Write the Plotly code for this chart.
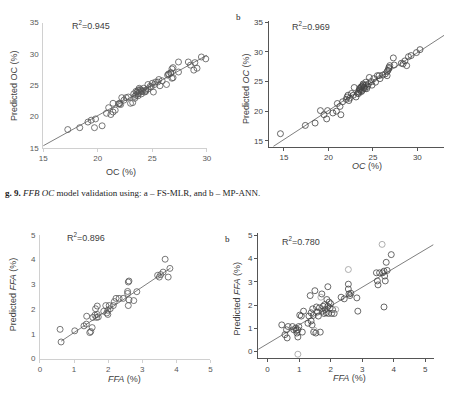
import plotly.graph_objects as go

# ---------------- data ----------------
# Panel a (top-left): OC, FS-MLR
a_x = [17.25, 18.35, 19.1, 19.4, 19.8, 19.7, 20.4, 20.8, 21.0, 21.2, 21.4, 21.4, 21.6, 22.0, 22.1,
       22.2, 22.4, 22.6, 22.8, 23.0, 23.2, 23.4, 23.5, 23.7, 23.7, 23.8, 23.8, 24.0, 24.0, 24.1,
       24.3, 24.4, 24.6, 24.6, 24.9, 25.1, 25.2, 25.5, 25.6, 25.7, 25.9, 26.3, 26.4, 26.5, 26.7,
       26.8, 26.9, 26.8, 26.9, 27.4, 27.4, 28.3, 28.5, 28.9, 28.8, 29.1, 29.5, 29.9,
       23.4, 23.6, 23.9, 24.2, 23.5, 23.7, 24.0, 24.4, 23.3, 22.0, 21.9, 26.5, 26.7, 25.3, 24.8, 25.0]
a_y = [17.9, 18.2, 19.1, 19.4, 19.6, 18.2, 18.5, 20.5, 21.4, 20.3, 20.7, 22.1, 21.0, 22.1, 21.9,
       23.0, 22.6, 23.0, 23.1, 22.1, 22.2, 22.9, 23.4, 23.6, 24.2, 23.9, 24.5, 24.2, 23.6, 24.0,
       23.9, 24.2, 24.4, 25.1, 24.7, 23.9, 25.1, 25.5, 25.9, 24.9, 25.7, 25.1, 26.6, 26.8, 26.9,
       27.6, 27.8, 26.1, 26.2, 27.1, 28.7, 28.7, 28.2, 28.6, 27.4, 27.7, 29.5, 29.2,
       23.2, 23.9, 24.3, 24.5, 24.0, 23.3, 24.0, 24.0, 23.6, 22.0, 22.0, 26.7, 27.0, 25.5, 24.8, 25.3]
a_fit = (0.965, 0.83)      # slope, intercept
a_fit_x = [15.0, 30.3]

# Panel b (top-right): OC, MP-ANN
b_x = [14.6, 17.4, 18.5, 19.1, 19.5, 19.9, 19.8, 20.5, 20.9, 21.0, 21.4, 21.3, 21.6, 22.1, 22.2,
       22.4, 22.6, 22.8, 22.9, 23.1, 23.4, 23.5, 23.7, 23.8, 23.9, 24.0, 24.2, 24.2, 24.3, 24.5,
       24.6, 24.8, 24.9, 25.1, 25.3, 25.5, 25.7, 25.8, 26.1, 26.4, 26.6, 26.8, 26.9, 26.6, 27.3,
       27.4, 28.2, 28.4, 28.8, 28.6, 29.0, 29.3, 29.9, 30.3,
       23.5, 23.6, 23.8, 23.4, 23.7, 24.0, 24.1, 23.9, 24.4, 23.6, 22.0, 22.3, 26.7, 26.8, 23.3]
b_y = [16.2, 17.6, 18.0, 20.1, 19.4, 20.1, 18.7, 19.7, 20.0, 21.3, 19.4, 20.8, 21.6, 22.4, 22.7,
       22.2, 23.0, 22.7, 24.0, 22.4, 23.3, 23.8, 24.1, 23.5, 24.4, 23.9, 24.4, 24.9, 23.8, 24.6,
       25.7, 25.0, 24.4, 25.5, 24.9, 26.0, 26.0, 25.5, 26.1, 26.3, 26.7, 27.4, 27.7, 26.0, 29.0,
       27.8, 28.1, 28.0, 27.7, 28.5, 29.2, 29.4, 29.9, 30.4,
       23.6, 24.0, 24.2, 23.0, 23.3, 24.1, 23.8, 24.6, 24.2, 23.5, 22.0, 21.8, 26.9, 27.2, 23.0]
b_fit = (0.977, 0.57)
b_fit_x = [13.8, 33.0]

# Panel c (bottom-left): FFA, FS-MLR
c_x = [0.59, 0.62, 1.02, 1.29, 1.36, 1.37, 1.46, 1.49, 1.53, 1.55, 1.61, 1.63, 1.66, 1.68, 1.68,
       1.71, 1.87, 1.93, 1.96, 1.99, 1.99, 2.03, 2.06, 2.15, 2.18, 2.23, 2.32, 2.44, 2.57, 2.57,
       2.59, 2.61, 2.59, 2.61, 2.75, 2.84, 3.45, 3.50, 3.54, 3.61, 3.67, 3.76, 3.81]
c_y = [1.18, 0.67, 1.12, 1.32, 1.39, 1.71, 1.05, 1.09, 1.25, 1.66, 1.75, 2.01, 1.66, 1.78, 2.12,
       1.68, 1.91, 2.14, 1.84, 1.95, 1.78, 2.14, 2.01, 2.14, 2.30, 2.43, 2.43, 2.43, 2.63, 2.71,
       3.09, 3.13, 2.14, 2.37, 2.34, 2.70, 3.36, 3.29, 3.39, 3.49, 4.01, 3.29, 3.64]
c_fit = (0.92, 0.13)
c_fit_x = [0.62, 3.83]

# Panel d (bottom-right): FFA, MP-ANN
d_x = [0.45, 0.55, 0.62, 0.60, 0.65, 0.79, 0.83, 0.89, 0.91, 0.93, 0.96, 0.96, 0.99, 1.02, 1.07,
       1.10, 1.14, 1.28, 1.31, 1.35, 1.38, 1.38, 1.41, 1.43, 1.45, 1.46, 1.50, 1.53, 1.55, 1.58,
       1.61, 1.64, 1.67, 1.72, 1.74, 1.76, 1.79, 1.81, 1.83, 1.86, 1.88, 1.91, 1.91, 1.93, 1.95,
       1.98, 2.00, 2.03, 2.06, 2.11, 2.33, 2.43, 2.56, 2.56, 2.58, 2.61, 2.64, 2.83, 2.86, 3.45,
       3.48, 3.50, 3.55, 3.65, 3.69, 3.71, 3.73, 3.79, 3.76, 3.92, 3.69]
d_y = [1.15, 0.73, 0.59, 0.94, 1.08, 1.08, 0.94, 1.01, 0.91, 0.80, 0.94, 0.63, 1.08, 1.57, 1.53,
       0.84, 1.74, 1.22, 1.53, 2.41, 1.67, 1.32, 1.15, 1.84, 1.56, 0.84, 2.62, 0.80, 1.92, 1.70,
       1.53, 1.88, 0.84, 2.48, 1.74, 1.95, 1.64, 2.02, 1.81, 1.67, 2.24, 2.79, 1.95, 1.64, 2.13,
       1.88, 2.06, 1.64, 1.81, 1.64, 2.34, 2.27, 2.69, 2.90, 2.48, 2.41, 2.51, 2.31, 1.74, 3.39,
       3.04, 2.87, 3.39, 3.39, 3.46, 3.25, 3.04, 3.49, 3.84, 4.17, 1.92]
d_gray_x = [0.96, 1.69, 2.16, 2.56, 3.63, 1.48]
d_gray_y = [-0.11, 2.34, 1.81, 3.53, 4.61, 0.92]
d_fit = (0.81, 0.34)
d_fit_x = [-0.30, 5.26]

oc_ticks = [15, 20, 25, 30, 35]
ffa_ticks = [0, 1, 2, 3, 4, 5]

# ---------------- figure ----------------
W, H = 450, 401
def fx(px): return px / W
def fy(py): return 1 - py / H

fig = go.Figure()

def add_panel(n, xs, ys, fit, fit_x, color="#4a4a4a", gray=None):
    xa = "x" if n == 1 else f"x{n}"
    ya = "y" if n == 1 else f"y{n}"
    fig.add_trace(go.Scatter(x=fit_x, y=[fit[0] * v + fit[1] for v in fit_x], mode="lines",
                             line=dict(color="#707070", width=0.9), xaxis=xa, yaxis=ya,
                             showlegend=False, hoverinfo="skip"))
    fig.add_trace(go.Scatter(x=xs, y=ys, mode="markers", xaxis=xa, yaxis=ya, cliponaxis=False,
                             marker=dict(symbol="circle-open", size=6, color=color,
                                         line=dict(width=0.8, color=color)),
                             showlegend=False))
    if gray:
        fig.add_trace(go.Scatter(x=gray[0], y=gray[1], mode="markers", xaxis=xa, yaxis=ya,
                                 cliponaxis=False,
                                 marker=dict(symbol="circle-open", size=6, color="#9a9a9a",
                                             line=dict(width=0.8, color="#9a9a9a")),
                                 showlegend=False))

add_panel(1, a_x, a_y, a_fit, a_fit_x, color="#555555")
add_panel(2, b_x, b_y, b_fit, b_fit_x, color="#444444")
add_panel(3, c_x, c_y, c_fit, c_fit_x, color="#555555")
add_panel(4, d_x, d_y, d_fit, d_fit_x, color="#444444", gray=(d_gray_x, d_gray_y))

sans = "Liberation Sans, Arial, sans-serif"
serif = "Liberation Serif, Times New Roman, serif"

excel_axis = dict(showgrid=False, zeroline=False, showline=True, linecolor="#d0d0d0", linewidth=1,
                  ticks="outside", ticklen=3, tickcolor="#d0d0d0",
                  tickfont=dict(family=sans, size=8, color="#595959"))
spss_axis = dict(showgrid=False, zeroline=False, showline=True, linecolor="#555555", linewidth=1,
                 ticks="outside", ticklen=3, tickcolor="#555555",
                 tickfont=dict(family=sans, size=8, color="#444444"))

fig.update_layout(
    width=W, height=H, autosize=False, margin=dict(l=0, r=0, t=0, b=0),
    paper_bgcolor="white", plot_bgcolor="white",
    xaxis=dict(excel_axis, domain=[fx(40), fx(207)], range=[15, 30], tickvals=oc_ticks[:4],
               anchor="y"),
    yaxis=dict(excel_axis, domain=[fy(147), fy(19)], range=[15, 35], tickvals=oc_ticks,
               anchor="x", ticklen=2, tickcolor="rgba(0,0,0,0)"),
    xaxis2=dict(spss_axis, domain=[fx(270), fx(449)], range=[13.27, 33.0], tickvals=oc_ticks[:4],
                anchor="y2"),
    yaxis2=dict(spss_axis, domain=[fy(146), fy(17)], range=[14.0, 35.3], tickvals=oc_ticks,
                anchor="x2"),
    xaxis3=dict(excel_axis, domain=[fx(36.7), fx(210.7)], range=[0, 5], tickvals=ffa_ticks,
                anchor="y3"),
    yaxis3=dict(excel_axis, domain=[fy(362.7), fy(236)], range=[0, 5], tickvals=ffa_ticks,
                anchor="x3", ticklen=2, tickcolor="rgba(0,0,0,0)"),
    xaxis4=dict(spss_axis, domain=[fx(259.3), fx(438.3)], range=[-0.30, 5.26], tickvals=ffa_ticks,
                anchor="y4"),
    yaxis4=dict(spss_axis, domain=[fy(362.3), fy(234)], range=[-0.28, 5.11], tickvals=ffa_ticks,
                anchor="x4"),
)

def ann(text, px, py, size=8, color="#404040", family=sans, angle=0, xanchor="center",
        yanchor="middle"):
    fig.add_annotation(text=text, x=fx(px), y=fy(py), xref="paper", yref="paper",
                       showarrow=False, textangle=angle, xanchor=xanchor, yanchor=yanchor,
                       font=dict(family=family, size=size, color=color))

# Panel a texts
ann("R<sup>2</sup>=0.945", 67, 21, size=9, xanchor="left")
ann("OC (%)", 119, 172, size=9)
ann("Predicted OC (%)", 10, 83, size=9, angle=-90)
# Panel b texts
ann("b", 239, 13, size=9, family=serif, color="#222222")
ann("R<sup>2</sup>=0.969", 292, 22, size=9, xanchor="left")
ann("<i>OC</i> (%)", 370, 166, size=9)
ann("Predicted <i>OC</i> (%)", 247, 87, size=9, angle=-90)
# Caption
ann("<b>g. 9.</b> <i>FFB OC</i> model validation using: a \u2013 FS-MLR, and b \u2013 MP-ANN.",
    -1, 193, size=9, family=serif, color="#222222", xanchor="left")
# Panel c texts
ann("R<sup>2</sup>=0.896", 62, 238, size=9, xanchor="left")
ann("<i>FFA</i> (%)", 123, 384, size=9)
ann("Predicted <i>FFA</i> (%)", 10, 297, size=9, angle=-90)
# Panel d texts
ann("b", 228, 240, size=9, family=serif, color="#222222")
ann("R<sup>2</sup>=0.780", 282, 242, size=9, xanchor="left")
ann("<i>FFA</i> (%)", 353, 383, size=9)
ann("Predicted <i>FFA</i> (%)", 238, 302, size=9, angle=-90)

fig.write_html("out.html")
